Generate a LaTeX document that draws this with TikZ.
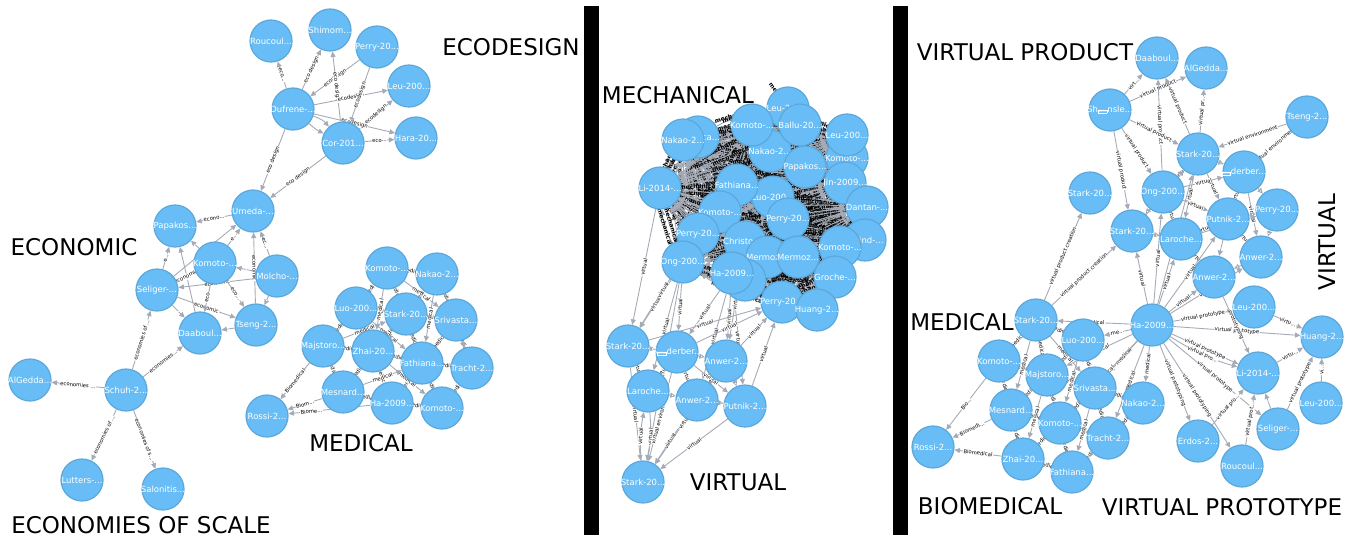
\documentclass[tikz,border=0pt]{standalone}
\usepackage{fontspec}
\setmainfont{DejaVu Sans}
\usetikzlibrary{arrows.meta}
\definecolor{nodefill}{HTML}{68BDF6}
\definecolor{nodeline}{HTML}{5CA8DB}
\definecolor{edgec}{HTML}{A5ABB6}
\pgfdeclarelayer{bg}
\pgfsetlayers{bg,main}
\newcommand\tofu{{\setlength\fboxsep{0.4pt}\setlength\fboxrule{0.5pt}\fbox{\fontsize{3}{3}\selectfont 0034}}}
\newcommand\ppr[3]{\node[paper, label={[ptext]center:#3}] (#1) at (#2) {};}
\newcommand\edg[3]{\draw[rel] (#1) -- node[lab]{#3} (#2);}
\newcommand\edgm[2]{\draw[rel] (#1) -- node[labm]{mechanical} (#2);\draw[rel] (#2) to[bend left=12] node[labm]{mechanical} (#1);}
\tikzset{
 paper/.style={circle, fill=nodefill, draw=nodeline, line width=1.2pt, minimum size=42pt, inner sep=0pt},
 ptext/.style={text=white, font=\fontsize{8.5}{8.5}\selectfont, inner sep=0pt},
 rel/.style={draw=edgec, line width=0.9pt, -{Triangle[length=5.5pt,width=5pt]}},
 lab/.style={sloped, font=\fontsize{5.3}{5.3}\selectfont, fill=white, inner sep=0.4pt, text=black},
 labm/.style={sloped, font=\bfseries\fontsize{6}{6}\selectfont, inner sep=0.2pt, text=black},
 big/.style={font=\fontsize{23}{23}\selectfont, inner sep=0pt, text=black},
}
\begin{document}
\begin{tikzpicture}[x=1pt,y=-1pt]
\useasboundingbox (0,0) rectangle (1351,535);
\fill[black] (584,6) rectangle (599,535);
\fill[black] (893,6) rectangle (908,535);

% ---------------- panel 1 ----------------
\ppr{r1}{271,41}{Roucoul...}
\ppr{sh1}{330,30}{Shimom...}
\ppr{pe1}{377,47}{Perry-20...}
\ppr{le1}{409,86}{Leu-200...}
\ppr{du1}{293,109}{Dufrene-...}
\ppr{co1}{343,143}{Cor-201...}
\ppr{ha1}{416,138}{Hara-20...}
\ppr{um1}{253,211}{Umeda-...}
\ppr{pa1}{175,226}{Papakos...}
\ppr{ko1}{215,263}{Komoto-...}
\ppr{mo1}{277,276}{Molcho-...}
\ppr{se1}{157,290}{Seliger-...}
\ppr{ts1}{256,325}{Tseng-2...}
\ppr{da1}{200,333}{Daaboul...}
\ppr{al1}{30,380}{AlGedda...}
\ppr{sc1}{126,390}{Schuh-2...}
\ppr{lu1}{82,480}{Lutters-...}
\ppr{sa1}{163,489}{Salonitis...}
\ppr{kt1}{387,268}{Komoto-...}
\ppr{na1}{437,274}{Nakao-2...}
\ppr{lo1}{356,308}{Luo-200...}
\ppr{st1}{406,314}{Stark-20...}
\ppr{sr1}{456,320}{Srivasta...}
\ppr{mj1}{323,346}{Majstoro...}
\ppr{zh1}{373,351}{Zhai-20...}
\ppr{fa1}{422,363}{Fathiana...}
\ppr{tr1}{472,368}{Tracht-2...}
\ppr{me1}{343,392}{Mesnard...}
\ppr{h91}{392,403}{Ha-2009...}
\ppr{kb1}{442,408}{Komoto-...}
\ppr{ro1}{267,416}{Rossi-2...}

\node[big] (tecod) at (511,47) {ECODESIGN};
\node[big] (tecon) at (74,247) {ECONOMIC};
\node[big] (tscale) at (141,525) {ECONOMIES OF SCALE};
\node[big] (tmed1) at (361,443) {MEDICAL};

% ---------------- panel 2 ----------------
\ppr{lt2}{788,108}{Leu-200...}
\ppr{ca2}{698,137}{\phantom{Srivas}ca...}
\ppr{na2a}{683,140}{Nakao-2...}
\ppr{na2b}{770,151}{Nakao-2...}
\ppr{ko2a}{752,125}{Komoto-...}
\ppr{ba2}{800,125}{Ballu-20...}
\ppr{ko2b}{847,158}{Komoto-...}
\ppr{le2}{847,135}{Leu-200...}
\ppr{pa2}{805,167}{Papakos...}
\ppr{ji2}{845,183}{Jin-2009...}
\ppr{li2}{660,188}{Li-2014-...}
\ppr{lu2}{773,197}{Luo-200...}
\ppr{fa2}{737,185}{Fathiana...}
\ppr{da2}{867,207}{Dantan-...}
\ppr{ko2c}{720,212}{Komoto-...}
\ppr{pe2a}{788,219}{Perry-20...}
\ppr{li2b}{865,240}{\phantom{Ek}lind-...}
\ppr{pe2b}{698,234}{Perry-20...}
\ppr{ch2}{745,242}{Christop...}
\ppr{mr2a}{767,257}{Mermoz...}
\ppr{mr2b}{798,257}{Mermoz...}
\ppr{ko2d}{840,247}{Komoto-...}
\ppr{gr2}{835,277}{Groche-...}
\ppr{on2}{683,262}{Ong-200...}
\ppr{hb2}{745,280}{}
\ppr{ha2}{732,273}{Ha-2009...}
\ppr{pe2c}{782,302}{Perry-20...}
\ppr{hu2}{817,310}{Huang-2...}
\ppr{st2a}{628,346}{Stark-20...}
\ppr{so2}{677,352}{S\tofu derber...}
\ppr{an2a}{726,361}{Anwer-2...}
\ppr{la2}{648,391}{Laroche...}
\ppr{an2b}{697,400}{Anwer-2...}
\ppr{pu2}{745,406}{Putnik-2...}
\ppr{st2b}{643,482}{Stark-20...}

\node[big] (tmech) at (678,95) {MECHANICAL};
\node[big] (tvirt2) at (738,482) {VIRTUAL};

% ---------------- panel 3 ----------------
\ppr{da3}{1157,58}{Daaboul...}
\ppr{al3}{1206,68}{AlGedda...}
\ppr{sh3}{1110,110}{Sh\tofu nsle...}
\ppr{ts3}{1307,117}{Tseng-2...}
\ppr{st3a}{1198,154}{Stark-20...}
\ppr{so3}{1244,172}{\tofu derber...}
\ppr{st3b}{1090,193}{Stark-20...}
\ppr{on3}{1163,192}{Ong-200...}
\ppr{pe3}{1277,210}{Perry-20...}
\ppr{pu3}{1228,219}{Putnik-2...}
\ppr{st3c}{1132,231}{Stark-20...}
\ppr{la3}{1181,239}{Laroche...}
\ppr{an3a}{1261,257}{Anwer-2...}
\ppr{an3b}{1214,277}{Anwer-2...}
\ppr{le3a}{1254,307}{Leu-200...}
\ppr{ha3}{1152,325}{Ha-2009...}
\ppr{st3d}{1036,320}{Stark-20...}
\ppr{lu3}{1083,340}{Luo-200...}
\ppr{hu3}{1322,337}{Huang-2...}
\ppr{ko3a}{999,361}{Komoto-...}
\ppr{mj3}{1047,375}{Majstoro...}
\ppr{sr3}{1095,388}{Srivasta...}
\ppr{li3}{1258,373}{Li-2014-...}
\ppr{me3}{1011,410}{Mesnard...}
\ppr{na3}{1143,403}{Nakao-2...}
\ppr{le3b}{1321,403}{Leu-200...}
\ppr{ko3b}{1060,423}{Komoto-...}
\ppr{se3}{1278,429}{Seliger-...}
\ppr{ro3}{933,447}{Rossi-2...}
\ppr{tr3}{1108,438}{Tracht-2...}
\ppr{er3}{1198,441}{Erdos-2...}
\ppr{zh3}{1023,459}{Zhai-20...}
\ppr{fa3}{1072,472}{Fathiana...}
\ppr{rc3}{1242,466}{Roucoul...}

\node[big] (tvp) at (1025,52) {VIRTUAL PRODUCT};
\node[big, rotate=90] (tvirt3) at (1327,242) {VIRTUAL};
\node[big] (tmed3) at (962,322) {MEDICAL};
\node[big] (tbio) at (990,506) {BIOMEDICAL};
\node[big] (tproto) at (1222,507) {VIRTUAL PROTOTYPE};

% ---------------- edges ----------------
\begin{pgfonlayer}{bg}
% ecodesign
\edg{du1}{r1}{eco...}
\edg{du1}{sh1}{eco design}
\edg{pe1}{du1}{ecodesign}
\edg{co1}{sh1}{eco design}
\edg{du1}{le1}{ecodesign}
\edg{pe1}{co1}{ecodesign}
\edg{co1}{le1}{ecodesign}
\edg{du1}{ha1}{ecodesign}
\draw[rel] (du1) to[bend left=15] (co1);
\draw[rel] (du1) to[bend right=8] (co1);
\edg{co1}{ha1}{eco...}
\edg{du1}{um1}{eco design}
\edg{co1}{um1}{eco design}
% economic
\edg{um1}{pa1}{econo...}
\edg{ko1}{um1}{e...}
\edg{mo1}{um1}{ec...}
\edg{ts1}{um1}{economic}
\edg{se1}{um1}{e...}
\edg{se1}{pa1}{e...}
\edg{ko1}{pa1}{}
\edg{da1}{pa1}{}
\edg{mo1}{se1}{economic}
\edg{mo1}{ts1}{}
\edg{se1}{da1}{}
\edg{se1}{ts1}{economic}
\edg{ts1}{da1}{}
\edg{ko1}{ts1}{eco...}
\edg{ko1}{da1}{eco}
\edg{ko1}{se1}{economic}
\edg{mo1}{ko1}{}
\edg{sc1}{se1}{economies of ...}
\edg{sc1}{da1}{economies...}
\edg{sc1}{al1}{economies ...}
\edg{sc1}{lu1}{economies of ...}
\edg{sc1}{sa1}{economies of s...}
% medical 1
\foreach \a/\b in {kt1/na1,kt1/lo1,kt1/st1,kt1/sr1,na1/st1,na1/sr1,lo1/st1,lo1/mj1,lo1/zh1,st1/sr1,st1/zh1,st1/fa1,sr1/fa1,sr1/tr1,mj1/zh1,mj1/me1,zh1/fa1,zh1/me1,zh1/h91,fa1/tr1,fa1/h91,fa1/kb1,tr1/kb1,me1/h91,h91/kb1,lo1/fa1,kt1/zh1,na1/fa1,mj1/st1,zh1/kb1,me1/fa1,na1/tr1}
  {\edg{\a}{\b}{medical}}
\edg{mj1}{ro1}{Biomedical}
\edg{me1}{ro1}{Biom...}
\draw[rel] (h91) -- node[lab,pos=0.72]{Biome...} (ro1);
% mechanical clique
\def\mechlist{lt2,ca2,na2a,na2b,ko2a,ba2,ko2b,le2,pa2,ji2,li2,lu2,fa2,da2,ko2c,pe2a,li2b,pe2b,ch2,mr2a,mr2b,ko2d,gr2,on2,hb2,ha2,pe2c,hu2}
\foreach \a [count=\i] in \mechlist {
  \foreach \b [count=\j] in \mechlist {
    \ifnum\j>\i\relax \edgm{\a}{\b}\fi
  }
}
% virtual panel 2
\edg{on2}{st2a}{virtual}
\edg{on2}{so2}{virtual}
\edg{on2}{la2}{virtual}
\edg{on2}{st2b}{virtual}
\edg{pe2b}{st2a}{virtual}
\edg{li2}{st2a}{virtual}
\edg{ha2}{so2}{virtual}
\edg{ha2}{an2a}{virtual}
\edg{ha2}{an2b}{virtual}
\edg{ha2}{pu2}{virtual}
\edg{ch2}{an2a}{virtual}
\edg{st2a}{pe2c}{virtual}
\edg{so2}{pe2c}{virtual}
\edg{an2a}{pe2c}{virtual}
\edg{pu2}{pe2c}{virtual}
\edg{st2a}{so2}{}
\edg{st2a}{la2}{virtual}
\edg{st2a}{st2b}{virtual}
\edg{so2}{an2a}{}
\edg{so2}{la2}{virtual}
\edg{so2}{an2b}{virtual}
\edg{so2}{pu2}{virtual}
\edg{an2a}{an2b}{virtual}
\edg{an2a}{pu2}{}
\edg{la2}{an2b}{}
\edg{an2b}{pu2}{}
\draw[rel] (la2) to[bend left=8] node[lab]{virtual} (st2b);
\draw[rel] (st2b) to[bend left=8] node[lab]{virtual} (la2);
\edg{an2b}{st2b}{virtual}
\edg{so2}{st2b}{virtual environments}
\edg{pu2}{st2b}{virtual}
\edg{an2a}{st2b}{virtual}
% panel 3 virtual product
\edg{sh3}{da3}{virt...}
\edg{sh3}{al3}{virtual product}
\edg{on3}{da3}{virtual product}
\edg{st3a}{da3}{virtual product}
\edg{st3a}{al3}{virtual pr...}
\edg{sh3}{st3a}{virtual product}
\edg{sh3}{st3c}{virtual product}
\edg{sh3}{on3}{virtual product}
\edg{ts3}{st3a}{virtual environment}
\edg{ts3}{so3}{virtual environments}
\edg{st3d}{st3b}{virtual product creation}
\edg{st3d}{st3c}{virtual product creation}
% panel 3 virtual
\foreach \a/\b/\t in {st3a/so3/,on3/st3a/virtual,st3a/pu3/virtual,st3a/la3/virtual,st3c/st3a/,so3/pu3/virtual,so3/pe3/,so3/an3a/virtual,on3/so3/virtual,on3/st3c/,on3/la3/virtual,on3/pu3/virtual,pu3/pe3/,la3/pu3/virtual,pu3/an3a/virtual,pu3/an3b/,st3c/la3/,la3/an3b/virtual,pe3/an3a/,an3a/an3b/,la3/pe3/virtual,ha3/st3c/virtual,ha3/la3/virtual,ha3/an3b/virtual,ha3/on3/virtual,ha3/pu3/virtual,ha3/st3a/virtual,ha3/an3a/virtual}
  {\edg{\a}{\b}{\t}}
% panel 3 prototype
\edg{ha3}{hu3}{virtual prototype}
\edg{ha3}{li3}{virtual prototype}
\draw[rel] (ha3) to[bend right=8] node[lab]{virtual pro...} (li3);
\edg{ha3}{er3}{virtual prototyping}
\edg{ha3}{rc3}{virtual prototyping}
\edg{ha3}{se3}{virtual prototype}
\edg{ha3}{le3a}{virtual prototype}
\edg{an3b}{li3}{prototyping}
\edg{le3a}{hu3}{virtu...}
\edg{li3}{hu3}{virtu...}
\edg{le3b}{hu3}{vi...}
\edg{se3}{li3}{}
\edg{se3}{hu3}{virtual prototype}
\edg{rc3}{li3}{virtual prot...}
\edg{er3}{li3}{virtual pro...}
% panel 3 medical
\edg{ha3}{lu3}{me...}
\foreach \a/\b in {ha3/st3d,ha3/sr3,ha3/na3,ha3/mj3,ha3/ko3b,ha3/tr3,st3d/lu3,st3d/ko3a,st3d/mj3,st3d/sr3,lu3/mj3,lu3/sr3,ko3a/mj3,ko3a/me3,mj3/sr3,mj3/me3,mj3/ko3b,mj3/zh3,sr3/na3,sr3/ko3b,sr3/tr3,me3/ko3b,me3/zh3,ko3b/zh3,ko3b/fa3,ko3b/tr3,tr3/fa3,zh3/fa3,na3/tr3,sr3/fa3,lu3/ko3b,st3d/me3}
  {\edg{\a}{\b}{medical}}
\edg{me3}{ro3}{Biomedi...}
\edg{ko3a}{ro3}{Bio...}
\edg{zh3}{ro3}{Biomedical}
\end{pgfonlayer}
\end{tikzpicture}
\end{document}
